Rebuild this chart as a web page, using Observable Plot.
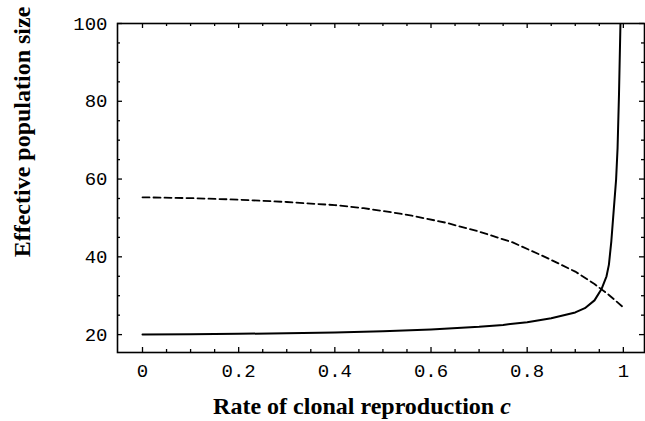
<!DOCTYPE html>
<html>
<head>
<meta charset="utf-8">
<script src="https://cdn.jsdelivr.net/npm/d3@7"></script>
<script src="https://cdn.jsdelivr.net/npm/@observablehq/plot@0.6"></script>
<style>
  html, body { margin: 0; padding: 0; background: #fff; }
  #wrap { position: relative; width: 645px; height: 421px; overflow: hidden; }
  .ttl { position: absolute; font-family: "Liberation Serif", "Times New Roman", serif; font-weight: bold; font-size: 24px; line-height: 1; white-space: nowrap; color: #000; }
  #xt { left: 362px; top: 394px; transform: translateX(-50%); }
  #yt { left: 22px; top: 132px; transform: translate(-50%, -50%) rotate(-90deg); }
</style>
</head>
<body>
<div id="wrap">
  <div id="chart"></div>
  <div class="ttl" id="xt">Rate of clonal reproduction <i>c</i></div>
  <div class="ttl" id="yt">Effective population size</div>
</div>
<script>
// Solid curve
const solidC  = [0, 0.1, 0.2, 0.3, 0.4, 0.5, 0.6, 0.7, 0.75, 0.8, 0.85, 0.9, 0.92, 0.94, 0.955, 0.965, 0.97, 0.975, 0.98, 0.985, 0.988, 0.991, 0.994];
const solidNe = [20, 20.1, 20.2, 20.35, 20.55, 20.85, 21.3, 22.0, 22.5, 23.2, 24.2, 25.7, 26.8, 28.8, 31.8, 35, 38, 44, 52, 60, 68, 82, 100];

// Dashed curve
const dashC  = [0, 0.1, 0.2, 0.3, 0.4, 0.46, 0.5, 0.56, 0.63, 0.7, 0.77, 0.84, 0.9, 0.94, 0.97, 1.0];
const dashNe = [55.3, 55.1, 54.7, 54.1, 53.3, 52.5, 51.8, 50.6, 48.8, 46.5, 43.7, 39.8, 36.2, 33.0, 30.2, 27.0];

// Ticks
const xTicks = [0, 0.2, 0.4, 0.6, 0.8, 1];
const xMinor = [0.05, 0.1, 0.15, 0.25, 0.3, 0.35, 0.45, 0.5, 0.55, 0.65, 0.7, 0.75, 0.85, 0.9, 0.95];
const yTicks = [20, 40, 60, 80, 100];
const yMinor = [25, 30, 35, 45, 50, 55, 65, 70, 75, 85, 90, 95];

const solid = solidC.map((c, i) => ({c, ne: solidNe[i]}));
const dashed = dashC.map((c, i) => ({c, ne: dashNe[i]}));

const W = 645, H = 421, mL = 117, mR = 1, mT = 23, mB = 69;
const iW = W - mL - mR, iH = H - mT - mB;
const majLen = 5, minLen = 3;

const tickStyle = {stroke: "black", strokeWidth: 1.3};

const plot = Plot.plot({
  width: W,
  height: H,
  marginLeft: mL,
  marginRight: mR,
  marginTop: mT,
  marginBottom: mB,
  style: {fontFamily: "'Liberation Mono', 'Courier New', monospace", fontSize: "19px", color: "black", background: "white"},
  x: {domain: [-0.052, 1.044]},
  y: {domain: [15.4, 100]},
  marks: [
    Plot.tickX(xTicks, {x: d => d, insetTop: iH - majLen, ...tickStyle}),
    Plot.tickX(xMinor, {x: d => d, insetTop: iH - minLen, ...tickStyle}),
    Plot.tickX(xTicks, {x: d => d, insetBottom: iH - majLen, ...tickStyle}),
    Plot.tickX(xMinor, {x: d => d, insetBottom: iH - minLen, ...tickStyle}),
    Plot.tickY(yTicks, {y: d => d, insetRight: iW - majLen, ...tickStyle}),
    Plot.tickY(yMinor, {y: d => d, insetRight: iW - minLen, ...tickStyle}),
    Plot.tickY(yTicks, {y: d => d, insetLeft: iW - majLen, ...tickStyle}),
    Plot.tickY(yMinor, {y: d => d, insetLeft: iW - minLen, ...tickStyle}),
    Plot.axisX({ticks: xTicks, tickSize: 0, tickPadding: 11, tickFormat: d => String(d), label: null}),
    Plot.axisY({ticks: yTicks, tickSize: 0, tickPadding: 10, tickFormat: d => String(d), label: null}),
    Plot.line(dashed, {x: "c", y: "ne", stroke: "black", strokeWidth: 1.8, strokeDasharray: "7,4", clip: true}),
    Plot.line(solid, {x: "c", y: "ne", stroke: "black", strokeWidth: 2, clip: true}),
    Plot.frame({stroke: "black", strokeWidth: 1.6})
  ]
});
document.getElementById("chart").appendChild(plot);
</script>
</body>
</html>
